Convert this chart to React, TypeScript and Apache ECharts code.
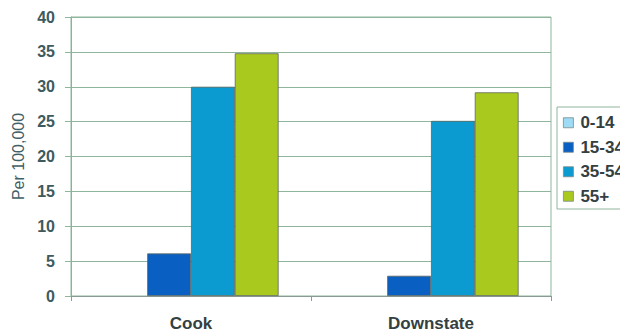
import React, { useEffect, useRef } from "react";
import * as echarts from "echarts";

const categories = ["Cook", "Downstate"];
const ageGroups = ["0-14", "15-34", "35-54", "55+"];
const rates0to14 = [0, 0];
const rates15to34 = [6.1, 2.9];
const rates35to54 = [30.0, 25.1];
const rates55plus = [34.8, 29.2];
const yTicks = { min: 0, max: 40, interval: 5 };

const colors = ["#9ddcf4", "#0a5fc2", "#0b9bd1", "#a9c91e"];
const font = "'Liberation Sans', Arial, sans-serif";

// The chart canvas runs past the visible frame so the legend box is cut off at the right edge.
const VIEW_W = 620;
const CHART_W = 690;
const H = 332;

export default function App() {
  const ref = useRef<HTMLDivElement>(null);

  useEffect(() => {
    document.body.style.margin = "0";
    const chart = echarts.init(ref.current!, null, { renderer: "svg" });
    const values = [rates0to14, rates15to34, rates35to54, rates55plus];
    chart.setOption({
      animation: false,
      backgroundColor: "#ffffff",
      grid: {
        left: 71,
        right: CHART_W - 551,
        top: 17,
        bottom: 35,
        show: true,
        borderColor: "#8fb59c",
        borderWidth: 1,
      },
      legend: {
        orient: "vertical",
        left: 557,
        top: 107,
        data: ageGroups,
        icon: "rect",
        itemWidth: 10,
        itemHeight: 10,
        itemGap: 7,
        padding: [7, 40, 4, 6],
        borderColor: "#8fb59c",
        borderWidth: 1,
        itemStyle: { borderColor: "#7a8a8a", borderWidth: 0.8 },
        textStyle: {
          fontFamily: font,
          fontWeight: "bold",
          fontSize: 17,
          lineHeight: 17.5,
          color: "#33403f",
          padding: [0, 0, 0, 2],
        },
      },
      xAxis: {
        type: "category",
        data: categories,
        axisLine: { lineStyle: { color: "#8a9a94", width: 1 } },
        axisTick: { show: true, length: 5, lineStyle: { color: "#8a9a94" } },
        axisLabel: {
          fontFamily: font,
          fontWeight: "bold",
          fontSize: 17,
          color: "#33403f",
          margin: 19,
        },
      },
      yAxis: {
        type: "value",
        min: yTicks.min,
        max: yTicks.max,
        interval: yTicks.interval,
        name: "Per 100,000",
        nameLocation: "middle",
        nameGap: 45,
        nameTextStyle: {
          fontFamily: font,
          fontSize: 16,
          color: "#3f6066",
        },
        axisLine: { show: true, lineStyle: { color: "#8fb09c", width: 1 } },
        axisTick: { show: true, length: 6, lineStyle: { color: "#8fb59c" } },
        axisLabel: {
          fontFamily: font,
          fontWeight: "bold",
          fontSize: 16,
          color: "#3e5a5e",
          margin: 16,
        },
        splitLine: { lineStyle: { color: "#8fb59c", width: 1 } },
      },
      series: ageGroups.map((name, i) => ({
        name,
        type: "bar",
        data: values[i],
        barGap: "0%",
        barCategoryGap: "27%",
        itemStyle: {
          color: colors[i],
          borderColor: i === 0 ? "transparent" : "#5a6660",
          borderWidth: 0.8,
        },
      })),
    });
    return () => chart.dispose();
  }, []);

  return (
    <div style={{ width: VIEW_W, height: H, overflow: "hidden" }}>
      <div ref={ref} style={{ width: CHART_W, height: H }} />
    </div>
  );
}
